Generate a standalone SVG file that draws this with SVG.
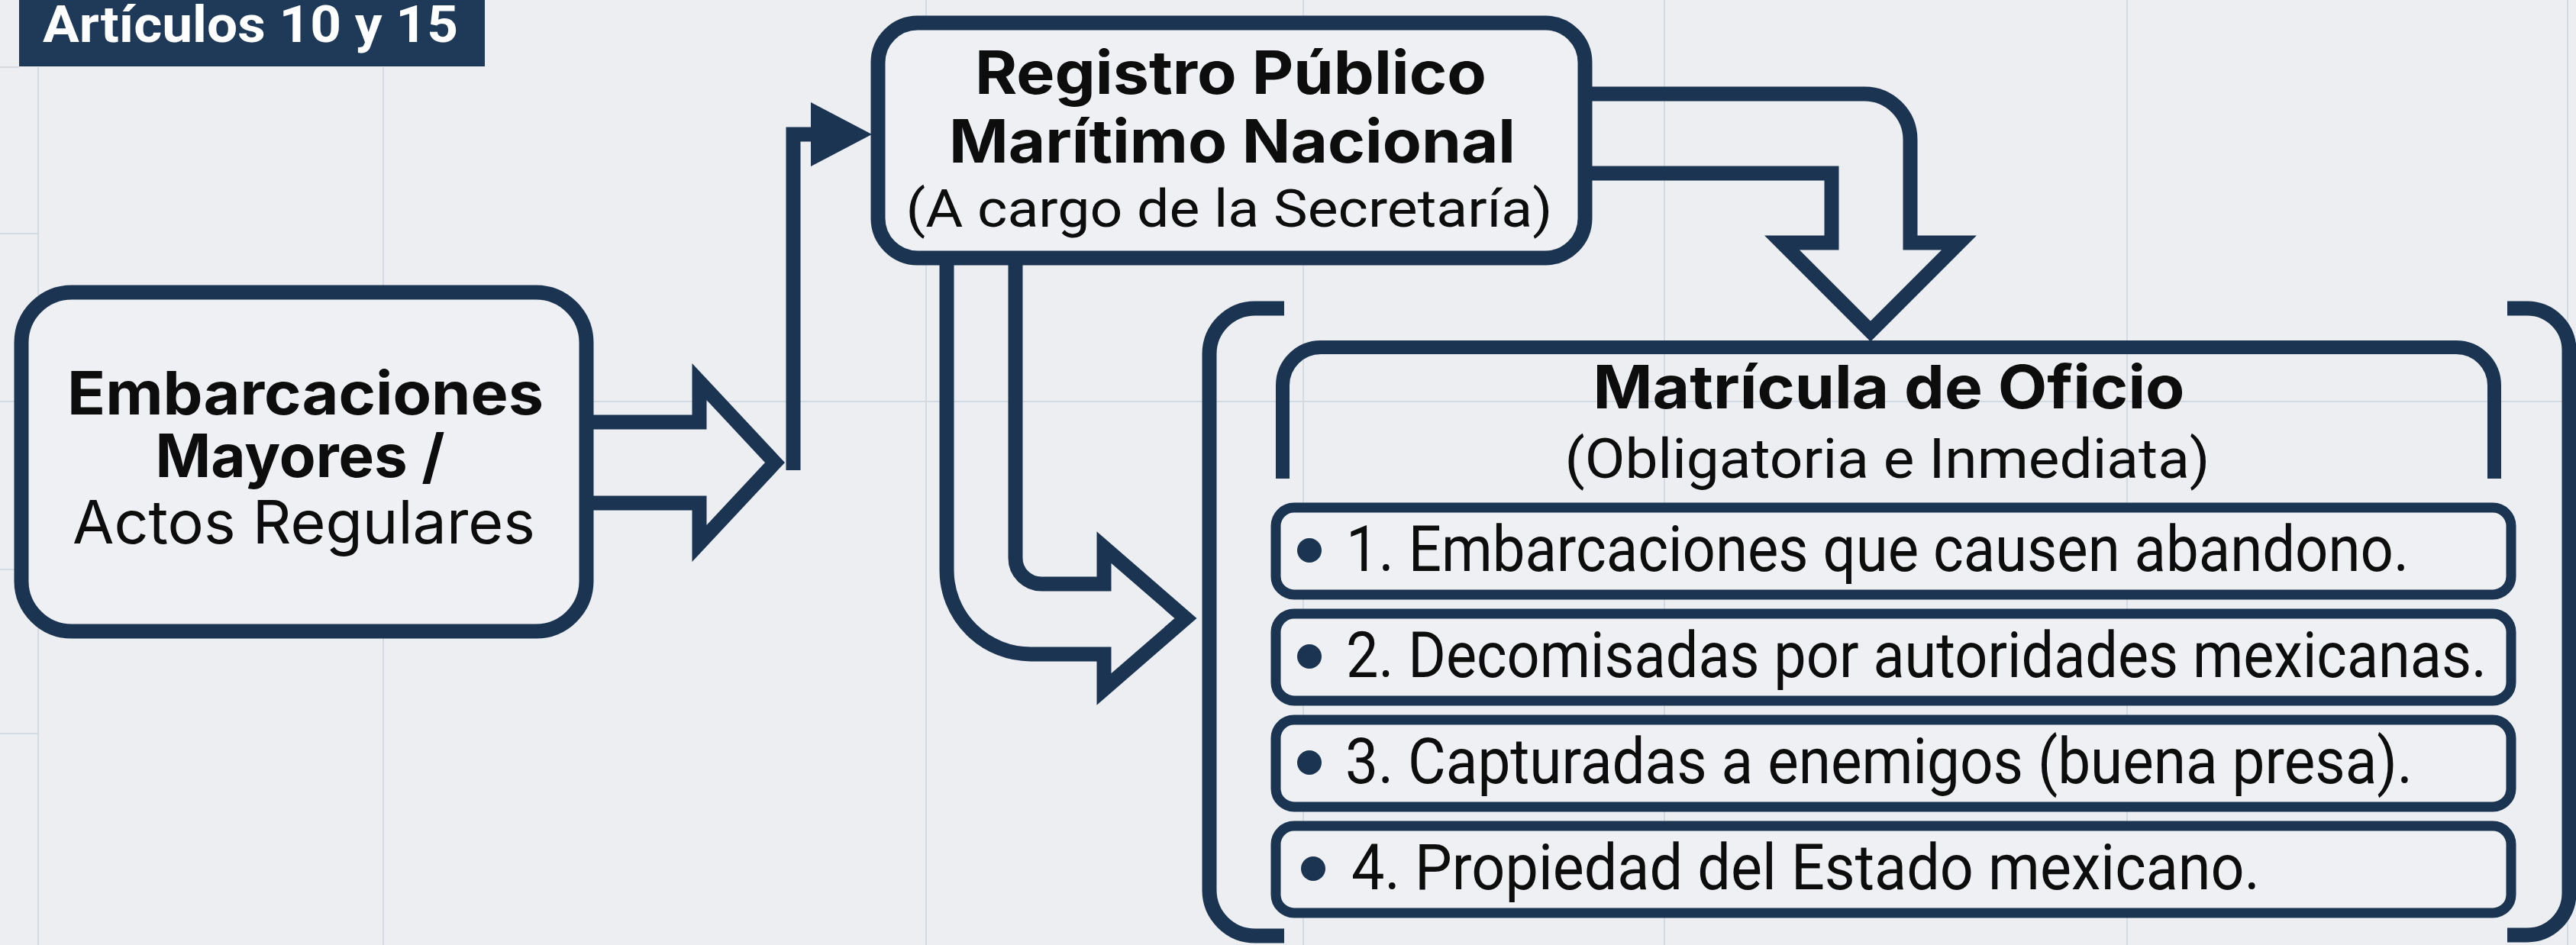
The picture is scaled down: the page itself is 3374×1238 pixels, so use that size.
<svg xmlns="http://www.w3.org/2000/svg" width="3374" height="1238" viewBox="0 0 3374 1238">
<defs>
<style>
.bg{fill:#eceef1}
.grid{stroke:#d4dae1;stroke-width:2;fill:none}
.box{fill:#eef0f3;stroke:#1b3451;stroke-width:19}
.ln{fill:none;stroke:#1b3451;stroke-width:19;stroke-linejoin:miter;stroke-miterlimit:6}
.item{fill:#eef0f3;stroke:#1b3451;stroke-width:13}
.hb{font-family:Inter,"Open Sans","Liberation Sans",sans-serif;font-weight:700;font-size:78px;fill:#0d0d0d}
.hr{font-family:Inter,"Open Sans","Liberation Sans",sans-serif;font-weight:400;font-size:78px;fill:#0d0d0d}
.cr{font-family:Roboto,"Liberation Sans",sans-serif;font-weight:400;fill:#0d0d0d}
.bul{fill:#1b3451}
</style>
</defs>
<rect class="bg" x="0" y="0" width="3374" height="1238"/>
<g id="grid">
<line class="grid" x1="50" y1="88" x2="50" y2="1238"/>
<line class="grid" x1="502" y1="88" x2="502" y2="1238"/>
<line class="grid" x1="1213" y1="0" x2="1213" y2="1238"/>
<line class="grid" x1="1707" y1="0" x2="1707" y2="1238"/>
<line class="grid" x1="2180" y1="0" x2="2180" y2="1238"/>
<line class="grid" x1="2786" y1="0" x2="2786" y2="1238"/>
<line class="grid" x1="3363" y1="0" x2="3363" y2="1238"/>
<line class="grid" x1="0" y1="526" x2="3374" y2="526"/>
<line class="grid" x1="0" y1="306" x2="50" y2="306"/>
<line class="grid" x1="0" y1="746" x2="50" y2="746"/>
<line class="grid" x1="0" y1="961" x2="50" y2="961"/>
<line class="grid" x1="0" y1="88" x2="25" y2="88"/>
</g>
<g id="title">
<rect x="25" y="-2" width="610" height="89" fill="#1f3a59"/>
<text x="56" y="55" font-family="Roboto,'Liberation Sans',sans-serif" font-weight="700" font-size="66" fill="#ffffff" textLength="544" lengthAdjust="spacingAndGlyphs">Artículos 10 y 15</text>
</g>
<g id="connectors">
<path class="ln" d="M768 553 H916 V500 L1015 606 L916 712 V659 H768"/>
<path class="ln" d="M1039 616 V176 H1068"/>
<polygon points="1062,134 1062,218 1142,176" fill="#1b3451"/>
<path class="ln" d="M2076 123 H2442 A60 60 0 0 1 2502 183 V318 H2566 L2450 434 L2334 318 H2399 V227 H2076"/>
<path class="ln" d="M1240 340 V747 A110 110 0 0 0 1350 857 H1446 V903 L1553 810 L1446 717 V765 H1364 A34 34 0 0 1 1330 731 V340"/>
</g>
<g id="node-embarcaciones">
<rect class="box" x="28" y="383" width="740" height="444" rx="66"/>
<text class="hb" x="400" y="543" text-anchor="middle" textLength="624" lengthAdjust="spacingAndGlyphs">Embarcaciones</text>
<text class="hb" x="393" y="625" text-anchor="middle" textLength="379" lengthAdjust="spacingAndGlyphs">Mayores /</text>
<text class="hr" x="398" y="712" text-anchor="middle" textLength="606" lengthAdjust="spacingAndGlyphs">Actos Regulares</text>
</g>
<g id="node-registro">
<rect class="box" x="1150" y="30" width="926" height="308" rx="52"/>
<text class="hb" x="1612" y="123" text-anchor="middle" textLength="670" lengthAdjust="spacingAndGlyphs">Registro Público</text>
<text class="hb" x="1614" y="213" text-anchor="middle" textLength="742" lengthAdjust="spacingAndGlyphs">Marítimo Nacional</text>
<text class="cr" x="1610" y="297" font-size="68" text-anchor="middle" textLength="847" lengthAdjust="spacingAndGlyphs">(A cargo de la Secretaría)</text>
</g>
<g id="node-matricula">
<path class="ln" d="M1682 404 H1644 A60 60 0 0 0 1584 464 V1166 A60 60 0 0 0 1644 1226 H1682"/>
<path class="ln" d="M3284 404 H3310 A55 55 0 0 1 3365 459 V1170 A55 55 0 0 1 3310 1225 H3284"/>
<path class="ln" style="stroke-width:18" d="M1680 627 V505 A50 50 0 0 1 1730 455 H3217 A50 50 0 0 1 3267 505 V627"/>
<text class="hb" x="2474" y="535" text-anchor="middle" textLength="775" lengthAdjust="spacingAndGlyphs">Matrícula de Oficio</text>
<text class="cr" x="2472" y="626" font-size="72" text-anchor="middle" textLength="845" lengthAdjust="spacingAndGlyphs">(Obligatoria e Inmediata)</text>
</g>
<g id="item-1">
<rect class="item" x="1671" y="665" width="1618" height="114" rx="24"/>
<circle class="bul" cx="1715" cy="721" r="16"/>
<text class="cr" x="1763" y="748" font-size="84" textLength="1392" lengthAdjust="spacingAndGlyphs">1. Embarcaciones que causen abandono.</text>
</g>
<g id="item-2">
<rect class="item" x="1671" y="804" width="1618" height="114" rx="24"/>
<circle class="bul" cx="1715" cy="860" r="16"/>
<text class="cr" x="1763" y="887" font-size="84" textLength="1494" lengthAdjust="spacingAndGlyphs">2. Decomisadas por autoridades mexicanas.</text>
</g>
<g id="item-3">
<rect class="item" x="1671" y="943" width="1618" height="114" rx="24"/>
<circle class="bul" cx="1715" cy="999" r="16"/>
<text class="cr" x="1762" y="1026" font-size="84" textLength="1398" lengthAdjust="spacingAndGlyphs">3. Capturadas a enemigos (buena presa).</text>
</g>
<g id="item-4">
<rect class="item" x="1671" y="1082" width="1618" height="114" rx="24"/>
<circle class="bul" cx="1720" cy="1138" r="16"/>
<text class="cr" x="1770" y="1165" font-size="84" textLength="1190" lengthAdjust="spacingAndGlyphs">4. Propiedad del Estado mexicano.</text>
</g>
</svg>
